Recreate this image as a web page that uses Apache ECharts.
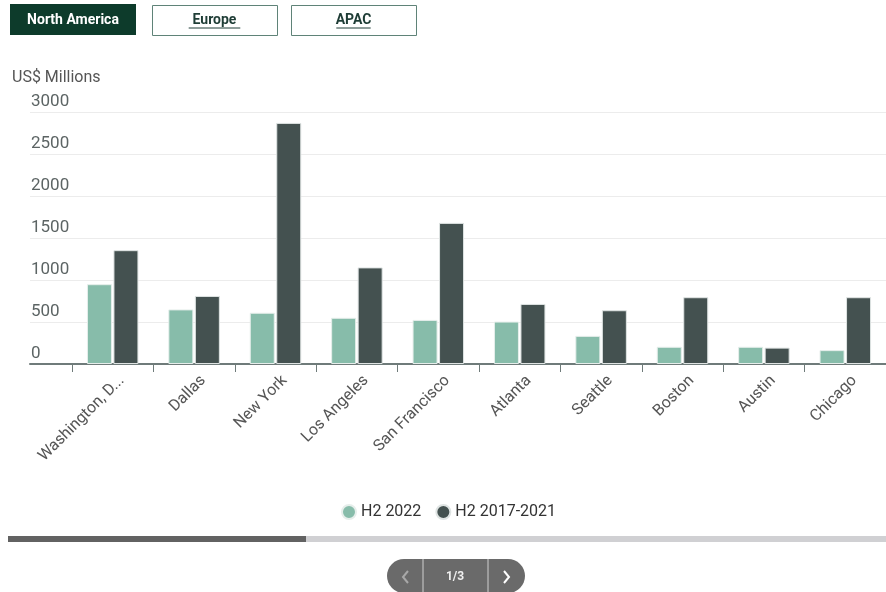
<!DOCTYPE html>
<html>
<head>
<meta charset="utf-8">
<script src="https://cdn.jsdelivr.net/npm/echarts@6/dist/echarts.min.js"></script>
<style>
html,body{margin:0;padding:0;background:#fff;}
#chart{width:886px;height:592px;}
</style>
</head>
<body>
<div id="chart"></div>
<script>
const categories = ["Washington, D.C.", "Dallas", "New York", "Los Angeles", "San Francisco", "Atlanta", "Seattle", "Boston", "Austin", "Chicago"];
const h2_2022 = [950, 650, 610, 550, 525, 505, 335, 205, 205, 165];
const h2_2017_2021 = [1355, 810, 2870, 1150, 1680, 715, 640, 795, 195, 795];
const seriesNames = ["H2 2022", "H2 2017-2021"];
const yTicks = { min: 0, max: 3000, interval: 500 };
const regionTabs = ["North America", "Europe", "APAC"];

const chart = echarts.init(document.getElementById('chart'), null, { renderer: 'canvas' });
const font = 'Roboto, "Noto Sans", sans-serif';
const axisGrey = '#6f7b7a';

const tabGraphics = [];
const tabX = [10, 152, 291];
const tabW = [126, 125, 125];
regionTabs.forEach((t, i) => {
  const active = i === 0;
  tabGraphics.push({
    type: 'rect', left: tabX[i], top: active ? 4 : 5,
    shape: { width: tabW[i], height: active ? 31 : 30 },
    style: active ? { fill: '#0d3b2b' } : { fill: '#fff', stroke: '#5f8378', lineWidth: 1 }
  });
  tabGraphics.push({
    type: 'text', x: tabX[i] + tabW[i] / 2, y: 20,
    style: { text: t, fill: active ? '#ffffff' : '#1f3d36', font: 'bold 14px ' + font, textAlign: 'center', textVerticalAlign: 'middle' }
  });
  if (!active) {
    const w = t.length * 8.6;
    tabGraphics.push({
      type: 'line', shape: { x1: tabX[i] + tabW[i] / 2 - w / 2, y1: 28, x2: tabX[i] + tabW[i] / 2 + w / 2, y2: 28 },
      style: { stroke: '#1f3d36', lineWidth: 1 }
    });
  }
});

const option = {
  animation: false,
  backgroundColor: '#ffffff',
  textStyle: { fontFamily: font },
  legend: {
    data: seriesNames,
    top: 499, left: 336,
    icon: 'circle', itemWidth: 14, itemHeight: 14, itemGap: 14,
    textStyle: { fontSize: 16, color: '#333', fontFamily: font }
  },
  grid: [
    { left: 30, right: 0, top: 112, bottom: 228, containLabel: false },
    { left: 72, width: 822, top: 112, bottom: 228, containLabel: false }
  ],
  xAxis: [
    { type: 'value', gridIndex: 0, min: 0, max: 1, show: true,
      axisLine: { show: true, onZero: false, lineStyle: { color: axisGrey, width: 2 } },
      axisTick: { show: false }, axisLabel: { show: false }, splitLine: { show: false } },
    { type: 'category', gridIndex: 1, data: categories, boundaryGap: true,
      axisLine: { show: false },
      axisTick: { show: true, length: 8, lineStyle: { color: axisGrey, width: 1 } },
      axisLabel: { rotate: 45, margin: 5, verticalAlign: 'top', padding: [5, 0, 0, 0],
        fontSize: 16, color: '#555', fontFamily: font, interval: 0,
        formatter: v => v.length > 15 ? v.slice(0, 13) + '...' : v } }
  ],
  yAxis: [
    { type: 'value', gridIndex: 0, min: yTicks.min, max: yTicks.max, interval: yTicks.interval,
      name: 'US$ Millions', nameLocation: 'end', nameGap: 34,
      nameTextStyle: { fontSize: 16, color: '#555', align: 'left', verticalAlign: 'middle', padding: [0, 0, 0, -18], fontFamily: font },
      axisLine: { show: false }, axisTick: { show: false },
      axisLabel: { inside: true, margin: 1, verticalAlign: 'bottom', padding: [0, 0, 2, 0], fontSize: 17, color: '#5c6464', fontFamily: font,
        formatter: v => String(v) },
      splitLine: { show: true, lineStyle: { color: '#ececec', width: 1 } } },
    { type: 'value', gridIndex: 1, min: yTicks.min, max: yTicks.max, interval: yTicks.interval, show: false,
      splitLine: { show: false } }
  ],
  series: [
    { name: seriesNames[0], type: 'bar', xAxisIndex: 1, yAxisIndex: 1, data: h2_2022,
      barWidth: 25, barGap: '6%',
      itemStyle: { color: '#87bcaa', borderColor: '#e6eeeb', borderWidth: 1 } },
    { name: seriesNames[1], type: 'bar', xAxisIndex: 1, yAxisIndex: 1, data: h2_2017_2021,
      barWidth: 25, barGap: '6%',
      itemStyle: { color: '#445150', borderColor: '#dfe4e3', borderWidth: 1 } }
  ],
  graphic: tabGraphics.concat([
    { type: 'rect', left: 8, top: 536, shape: { width: 878, height: 6 }, style: { fill: '#d0d0d3' } },
    { type: 'rect', left: 8, top: 536, shape: { width: 298, height: 6 }, style: { fill: '#626262' } },
    { type: 'rect', left: 387, top: 559, shape: { width: 138, height: 34, r: 17 }, style: { fill: '#6a6a6a' } },
    { type: 'line', shape: { x1: 423, y1: 559, x2: 423, y2: 593 }, style: { stroke: '#cfcfcf', lineWidth: 1 } },
    { type: 'line', shape: { x1: 488, y1: 559, x2: 488, y2: 593 }, style: { stroke: '#cfcfcf', lineWidth: 1 } },
    { type: 'polyline', shape: { points: [[408, 571], [403, 577], [408, 583]] }, style: { stroke: '#a8a8a8', lineWidth: 2, fill: null } },
    { type: 'text', x: 455, y: 577, style: { text: '1/3', fill: '#f0f0f0', font: 'bold 12px ' + font, textAlign: 'center', textVerticalAlign: 'middle' } },
    { type: 'polyline', shape: { points: [[504, 571], [509, 577], [504, 583]] }, style: { stroke: '#ffffff', lineWidth: 2, fill: null } }
  ])
};
chart.setOption(option);
</script>
</body>
</html>
